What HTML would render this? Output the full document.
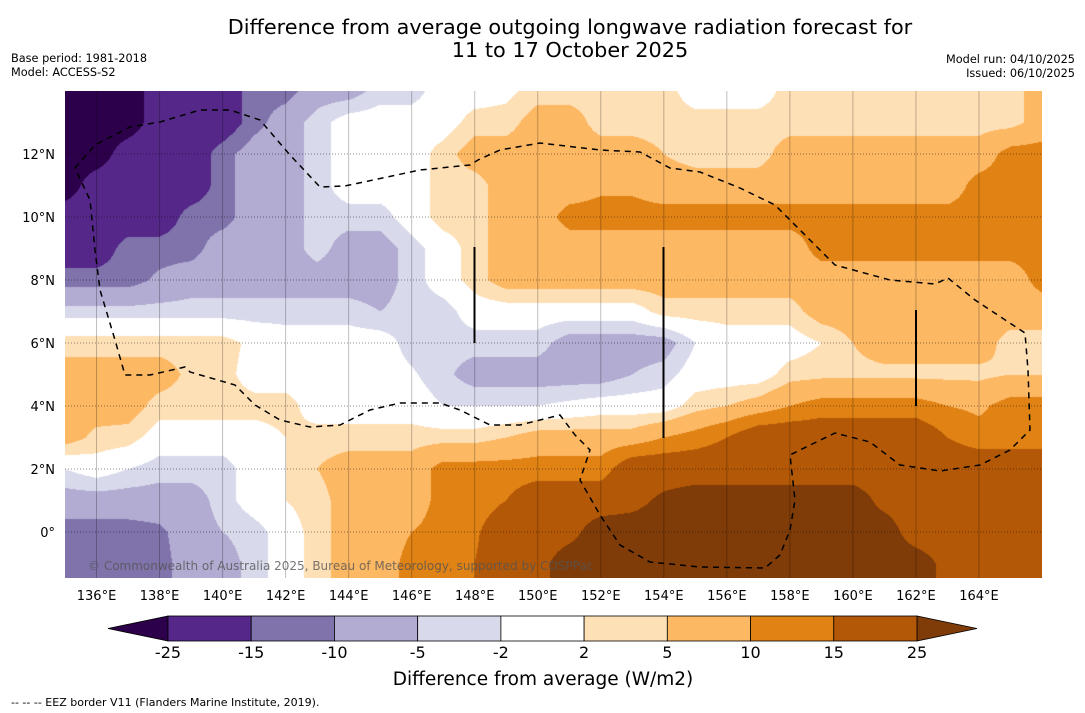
<!DOCTYPE html>
<html><head><meta charset="utf-8">
<style>
html,body{margin:0;padding:0;background:#fff;width:1085px;height:713px;overflow:hidden;font-family:"DejaVu Sans","Liberation Sans",sans-serif;}
#wrap{position:relative;width:1085px;height:713px;}
canvas{position:absolute;left:65px;top:91px;}
svg{position:absolute;left:0;top:0;}
</style></head>
<body>
<div id="wrap">
<canvas id="map" width="977" height="487"></canvas>
<svg id="ov" width="1085" height="713">
<text x="570" y="34" text-anchor="middle" font-size="20.8">Difference from average outgoing longwave radiation forecast for</text>
<text x="570" y="57" text-anchor="middle" font-size="20.8">11 to 17 October 2025</text>
<text x="11" y="62" font-size="11.3">Base period: 1981-2018</text>
<text x="11" y="76" font-size="11.3">Model: ACCESS-S2</text>
<text x="1075" y="63" font-size="11.3" text-anchor="end">Model run: 04/10/2025</text>
<text x="1075" y="77" font-size="11.3" text-anchor="end">Issued: 06/10/2025</text>
<g id="grid"></g>
<path fill="none" stroke="#000" stroke-width="1.5" stroke-dasharray="6,5" d="M75,168 L95,145 L130,127 L160,122 L200,110 L230,110 L260,120 L290,155 L320,187 L345,186 L420,170 L470,165 L478,160 L500,150 L540,143 L600,150 L640,152 L670,168 L700,172 L740,188 L775,205 L800,230 L835,265 L890,280 L935,284 L948,278 L975,300 L1025,333 L1028,370 L1030,430 L1010,450 L980,465 L940,471 L900,465 L870,442 L835,433 L800,450 L790,455 L795,500 L790,530 L780,555 L765,568 L700,567 L650,562 L620,545 L600,515 L580,480 L590,450 L575,435 L560,415 L520,425 L490,425 L460,410 L440,403 L400,403 L370,410 L340,425 L310,427 L280,420 L255,405 L235,385 L190,372 L185,367 L150,375 L125,375 L115,340 L100,290 L95,250 L90,200 Z"/>
<line x1="474.5" y1="247" x2="474.5" y2="343" stroke="#000" stroke-width="2"/>
<line x1="663.5" y1="247" x2="663.5" y2="438" stroke="#000" stroke-width="2"/>
<line x1="916" y1="310" x2="916" y2="406" stroke="#000" stroke-width="2"/>
<text x="88" y="570" font-size="12" fill="#555" fill-opacity="0.8">© Commonwealth of Australia 2025, Bureau of Meteorology, supported by COSPPac</text>
<g id="axes"></g>
<g id="cbar"></g>
<text x="543" y="685" text-anchor="middle" font-size="18.5">Difference from average (W/m2)</text>
<text x="11" y="706" font-size="11">--  --  -- EEZ border V11 (Flanders Marine Institute, 2019).</text>
</svg>
</div>
<script>
// data grid: rows lat 14..-2, cols lon 135..166
const lats=[14,13,12,11,10,9,8,7,6,5,4,3,2,1,0,-1,-2];
const lons=[135,136,137,138,139,140,141,142,143,144,145,146,147,148,149,150,151,152,153,154,155,156,157,158,159,160,161,162,163,164,165,166];
const r14=[-30,-30,-30,-20,-20,-20,-12,-12,-7,-7,-3.5,-3.5,0,0,1,3.5,3.5,3.5,3.5,3.5,0,0,0,3.5,3.5,3.5,3.5,3.5,3.5,3.5,3.5,7];
const r13=[-30,-30,-30,-20,-20,-20,-12,-7,-3.5,0,0,0,0,3.5,3.5,7,7,3.5,3.5,3.5,3.5,3.5,3.5,3.5,3.5,3.5,3.5,3.5,3.5,3.5,3.5,7];
const r12=[-30,-30,-20,-20,-20,-12,-7,-7,-3.5,0,0,0,3.5,7,7,7,7,7,7,5,3.5,3.5,3.5,7,7,7,7,7,7,7,12,12];
const r11=[-30,-20,-20,-20,-20,-12,-7,-7,-3.5,0,0,0,3.5,3.5,7,7,7,9,9,7,7,7,7,7,7,7,7,7,7,12,12,12];
const r10=[-20,-20,-20,-20,-12,-12,-7,-7,-3.5,-3.5,-3.5,0,3.5,3.5,7,7,12,12,12,12,12,12,12,12,12,12,12,12,12,12,12,12];
const r9=[-20,-20,-12,-12,-12,-7,-7,-7,-3.5,-7,-7,-3.5,0,3.5,7,7,7,7,7,7,7,7,7,7,12,12,12,12,12,12,12,12];
const r8=[-12,-12,-12,-9,-7,-7,-7,-7,-7,-7,-7,-3.5,0,3.5,7,7,7,7,7,7,7,7,7,7,7,7,7,7,7,7,7,12];
const r7=[-3.5,-3.5,-3.5,-3.5,-3.5,-3.5,-3.5,-3.5,-3.5,-3.5,-5,-3.5,-3.5,0,0,0,0,0,0,3.5,3.5,3.5,3.5,3.5,7,7,7,7,7,7,7,7];
const r6=[3.5,3.5,3.5,3.5,3.5,3.5,1,0,0,0,0,-3.5,-3.5,-3.5,-3.5,-3.5,-7,-7,-7,-7,-2,0,0,0,2,5,7,7,7,7,3.5,3.5];
const r5=[7,7,7,7,4,3.5,0,0,0,0,0,-1.5,-4,-7,-7,-7,-7,-7,-5,-3.5,0,0,0,3.5,4,4,4,4,4,4,5,5];
const r4=[7,7,7,3.5,3.5,3.5,3.5,3.5,0,0,0,0,-2,-2,-2,-2,-1,0,0,0,3.5,5,7,10,12,12,12,12,10,9,12,12];
const r3=[7,4,3.5,0,0,0,0,2,3.5,3.5,3.5,3.5,3.5,3.5,5,7,7,7,7,10,12,15,20,20,20,20,20,20,15,12,12,12];
const r2=[-2,0,-2,-3.5,-3.5,-3.5,0,2,5,7,7,7,12,12,12,12,12,12,20,20,20,20,20,20,20,20,20,20,20,20,20,20];
const r1=[-7,-7,-7,-7,-7,-3.5,0,2,3.5,7,7,7,12,12,15,20,20,20,22,27,30,30,30,30,30,30,22,20,20,20,20,20];
const r0=[-12,-12,-12,-11,-7,-5,-3.5,0,3.5,7,7,10,12,14,20,20,22,30,30,30,30,30,30,30,30,30,30,20,20,20,20,20];
const rm1=[-12,-12,-12,-12,-7,-7,-3.5,0,3.5,7,7,12,12,15,20,22,30,30,30,30,30,30,30,30,30,30,30,30,22,20,20,20];
const rm2=[-12,-12,-12,-12,-7,-7,-3.5,0,3.5,7,7,12,12,15,20,22,30,30,30,30,30,30,30,30,30,30,30,30,22,20,20,20];
const levels=[-25,-15,-10,-5,-2,2,5,10,15,25];
const levelLabels=["-25","-15","-10","-5","-2","2","5","10","15","25"];
const lonTicks=[136,138,140,142,144,146,148,150,152,154,156,158,160,162,164];
const latTicks=[0,2,4,6,8,10,12];
const colors=["#2d004b","#542788","#8073ac","#b2abd2","#d8daeb","#ffffff","#fee0b6","#fdb863","#e08214","#b35806","#7f3b08"];
const rows=[r14,r13,r12,r11,r10,r9,r8,r7,r6,r5,r4,r3,r2,r1,r0,rm1,rm2];

const X0=65,Y0=91,W=977,H=487,LON0=135,LON1=166,LAT0=14,LAT1=-1.46;
const xOf=l=>X0+(l-LON0)/(LON1-LON0)*W;
const yOf=p=>Y0+(LAT0-p)/(LAT0-LAT1)*H;
function cls(v){let i=0;while(i<levels.length&&v>=levels[i])i++;return i;}
function hex(c){return [parseInt(c.slice(1,3),16),parseInt(c.slice(3,5),16),parseInt(c.slice(5,7),16)];}
const rgb=colors.map(hex);
function val(lon,lat){
  let fi=(lon-lons[0]); let fj=(lats[0]-lat);
  fi=Math.max(0,Math.min(lons.length-1.0001,fi)); fj=Math.max(0,Math.min(lats.length-1.0001,fj));
  const i=Math.floor(fi),j=Math.floor(fj),a=fi-i,b=fj-j;
  const v00=rows[j][i],v10=rows[j][i+1],v01=rows[j+1][i],v11=rows[j+1][i+1];
  return v00*(1-a)*(1-b)+v10*a*(1-b)+v01*(1-a)*b+v11*a*b;
}
const cv=document.getElementById('map');const ctx=cv.getContext('2d');
const img=ctx.createImageData(W,H);
for(let py=0;py<H;py++){const lat=LAT0-(py+0.5)/H*(LAT0-LAT1);
  for(let px=0;px<W;px++){const lon=LON0+(px+0.5)/W*(LON1-LON0);
    const c=rgb[cls(val(lon,lat))];const k=(py*W+px)*4;
    img.data[k]=c[0];img.data[k+1]=c[1];img.data[k+2]=c[2];img.data[k+3]=255;}}
ctx.putImageData(img,0,0);

const NS='http://www.w3.org/2000/svg';
function mk(tag,attrs,parent){const e=document.createElementNS(NS,tag);for(const k in attrs)e.setAttribute(k,attrs[k]);parent.appendChild(e);return e;}
const grid=document.getElementById('grid');const axes=document.getElementById('axes');
lonTicks.forEach(l=>{
  const x=xOf(l);
  const g=mk('line',{x1:x,y1:Y0,x2:x,y2:Y0+H,stroke:'#000','stroke-opacity':0.25,'stroke-width':1},grid);
  
  
  const t=mk('text',{x:x,y:600,'text-anchor':'middle','font-size':13},axes);
  t.textContent=l+'°E';
  
  
});
latTicks.forEach(p=>{
  const y=yOf(p);
  const g=mk('line',{x1:X0,y1:y,x2:X0+W,y2:y,stroke:'#000','stroke-opacity':0.45,'stroke-width':1,'stroke-dasharray':'1,2'},grid);
  
  
  const t=mk('text',{x:55,y:y+5,'text-anchor':'end','font-size':13},axes);
  t.textContent=p===0?'0°':p+'°N';
  
  
});
// colorbar
const cb=document.getElementById('cbar');
const CB0=168,CB1=917,CBY=616,CBH=25;
const cbx=i=>CB0+i/(levels.length-1)*(CB1-CB0);
const lt=mk('polygon',{points:`108,${CBY+CBH/2} ${CB0},${CBY} ${CB0},${CBY+CBH}`,fill:colors[0],stroke:'#000','stroke-width':0.8},cb);


const rt=mk('polygon',{points:`977,${CBY+CBH/2} ${CB1},${CBY} ${CB1},${CBY+CBH}`,fill:colors[10],stroke:'#000','stroke-width':0.8},cb);


for(let i=0;i<levels.length-1;i++){
  const r=mk('rect',{x:cbx(i),y:CBY,width:cbx(i+1)-cbx(i),height:CBH,fill:colors[i+1],stroke:'#000','stroke-width':0.8},cb);
  
  
}
levelLabels.forEach((s,i)=>{
  const t=mk('text',{x:cbx(i),y:658,'text-anchor':'middle','font-size':16},cb);
  t.textContent=s;
  
  
});
</script>
</body></html>
